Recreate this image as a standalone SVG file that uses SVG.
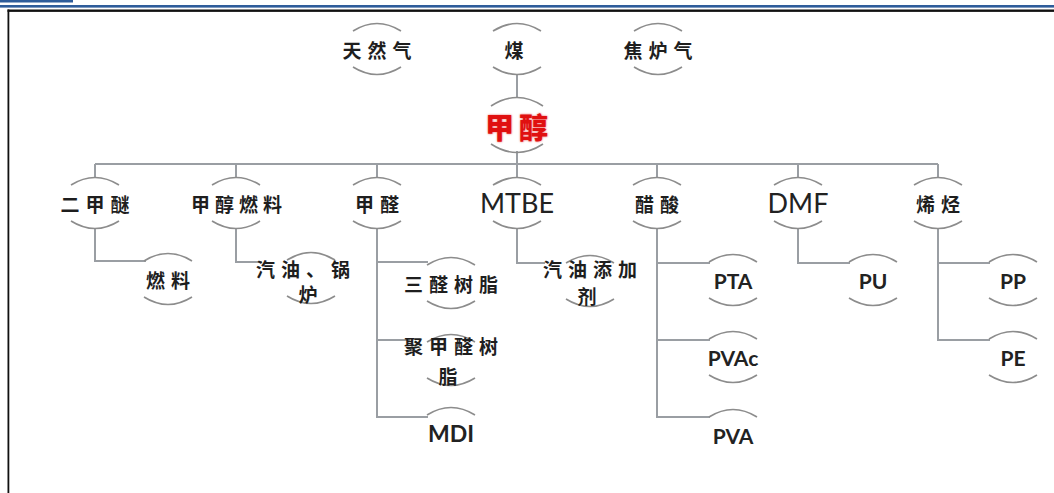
<svg xmlns="http://www.w3.org/2000/svg" width="1054" height="493" viewBox="0 0 1054 493">
<style>
.bg{fill:#ffffff}
.arc{fill:none;stroke:#8c8c8c;stroke-width:1.6}
.ln{fill:none;stroke:#9a9ea3;stroke-width:2}
.zh{font-family:"Noto Sans CJK SC","Noto Sans CJK JP",sans-serif;font-weight:700;fill:#1e1e1e;text-anchor:middle;dominant-baseline:central}
.z20{font-size:19px;letter-spacing:6px}
.en{font-family:Lato,"Open Sans",sans-serif;fill:#222;text-anchor:middle;dominant-baseline:central}
.e27{font-size:27px}
.e21{font-size:21px;font-weight:700}
.red{font-family:"Noto Sans CJK SC",sans-serif;font-weight:900;font-size:29px;fill:#e01010;text-anchor:middle;dominant-baseline:central;letter-spacing:5px}
</style>
<defs>
<path id="top" class="arc" d="M-24,-18 Q0,-33 24,-18"/>
<path id="bot" class="arc" d="M-24,18 Q0,33 24,18"/>
<filter id="glow" x="-20%" y="-20%" width="140%" height="140%"><feGaussianBlur stdDeviation="1.2"/></filter>
</defs>
<rect class="bg" x="0" y="0" width="1054" height="493"/>
<g id="frame">
<rect x="0" y="0" width="73" height="2.5" fill="#2e5c9a"/>
<rect x="0" y="5" width="1054" height="2.6" fill="#2e5c9a"/>
<rect x="7.5" y="9.5" width="1046.5" height="2.4" fill="#111"/>
<rect x="7.5" y="9.5" width="1.8" height="483.5" fill="#111"/>
</g>
<g id="connectors">
<path class="ln" d="M517,75 V98"/>
<path class="ln" d="M517,151 V164"/>
<path class="ln" d="M95,164 H938"/>
<path class="ln" d="M95,164 V178 M236,164 V178 M377,164 V178 M517,164 V178 M657,164 V178 M798,164 V178 M938,164 V178"/>
<path class="ln" d="M95,228 V261 H146"/>
<path class="ln" d="M236,228 V262 H262"/>
<path class="ln" d="M377,228 V417 H428 M377,262 H428 M377,340 H410"/>
<path class="ln" d="M517,228 V263 H545"/>
<path class="ln" d="M657,228 V417 H710 M657,263 H710 M657,340 H710"/>
<path class="ln" d="M798,228 V263 H850"/>
<path class="ln" d="M938,228 V340 H990 M938,263 H990"/>
</g>
<g id="n-tianranqi" transform="translate(377,49)"><use href="#top"/><use href="#bot"/><text class="zh z20" x="3" y="0">天然气</text></g>
<g id="n-mei" transform="translate(517,49)"><use href="#top"/><use href="#bot"/><text class="zh z20" x="0" y="0">煤</text></g>
<g id="n-jiaoluqi" transform="translate(658,49)"><use href="#top"/><use href="#bot"/><text class="zh z20" x="3" y="0">焦炉气</text></g>
<g id="n-jiachun" transform="translate(517,125)"><path class="arc" d="M-26,-19 Q0,-36 26,-19"/><path class="arc" d="M-26,19 Q0,36 26,19"/><text class="red" x="2" y="1" filter="url(#glow)" opacity="0.6">甲醇</text><text class="red" x="2" y="1">甲醇</text></g>
<g id="n-erjiami" transform="translate(95,203)"><use href="#top"/><use href="#bot"/><text class="zh z20" x="3" y="0">二甲醚</text></g>
<g id="n-jiachunranliao" transform="translate(236,203)"><use href="#top"/><use href="#bot"/><text class="zh z20" x="3" y="0" style="letter-spacing:5px">甲醇燃料</text></g>
<g id="n-jiaquan" transform="translate(377,203)"><use href="#top"/><use href="#bot"/><text class="zh z20" x="3" y="0">甲醛</text></g>
<g id="n-mtbe" transform="translate(517,203)"><use href="#top"/><use href="#bot"/><text class="en e27" x="0" y="-1">MTBE</text></g>
<g id="n-cusuan" transform="translate(657,203)"><use href="#top"/><use href="#bot"/><text class="zh z20" x="3" y="0">醋酸</text></g>
<g id="n-dmf" transform="translate(798,203)"><use href="#top"/><use href="#bot"/><text class="en e27" x="0" y="-1">DMF</text></g>
<g id="n-xiting" transform="translate(938,203)"><use href="#top"/><use href="#bot"/><text class="zh z20" x="3" y="0">烯烃</text></g>
<g id="n-ranliao" transform="translate(168,279)"><use href="#top"/><use href="#bot"/><text class="zh z20" x="3" y="0">燃料</text></g>
<g id="n-qiyouguolu" transform="translate(311,278)"><use href="#top"/><use href="#bot"/><text class="zh z20" x="-5" y="-10">汽油、锅</text><text class="zh z20" x="0" y="15">炉</text></g>
<g id="n-sanquanshuzhi" transform="translate(451,283)"><use href="#top"/><use href="#bot"/><text class="zh z20" x="3" y="0">三醛树脂</text></g>
<g id="n-juquan" transform="translate(451,360)"><use href="#top"/><use href="#bot"/><text class="zh z20" x="3" y="-15">聚甲醛树</text><text class="zh z20" x="0" y="15">脂</text></g>
<g id="n-mdi" transform="translate(451,433)"><use href="#top"/><text class="en e21" x="0" y="0" style="font-size:23px">MDI</text></g>
<g id="n-tianjiaji" transform="translate(590,281)"><use href="#top"/><use href="#bot"/><text class="zh z20" x="3" y="-13">汽油添加</text><text class="zh z20" x="0" y="14">剂</text></g>
<g id="n-pta" transform="translate(733,280)"><use href="#top"/><use href="#bot"/><text class="en e21" x="0" y="0">PTA</text></g>
<g id="n-pvac" transform="translate(733,357)"><use href="#top"/><use href="#bot"/><text class="en e21" x="0" y="0">PVAc</text></g>
<g id="n-pva" transform="translate(733,435)"><use href="#top"/><text class="en e21" x="0" y="0">PVA</text></g>
<g id="n-pu" transform="translate(873,280)"><use href="#top"/><use href="#bot"/><text class="en e21" x="0" y="0">PU</text></g>
<g id="n-pp" transform="translate(1013,280)"><use href="#top"/><use href="#bot"/><text class="en e21" x="0" y="0">PP</text></g>
<g id="n-pe" transform="translate(1013,357)"><use href="#top"/><use href="#bot"/><text class="en e21" x="0" y="0">PE</text></g>
</svg>
